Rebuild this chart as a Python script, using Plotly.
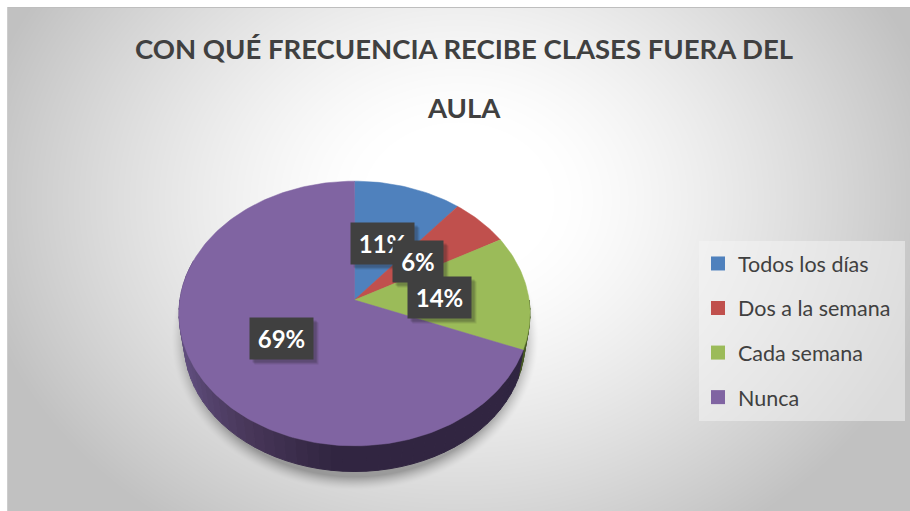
import base64, struct, zlib
import numpy as np
import plotly.graph_objects as go

categories = ["Todos los días", "Dos a la semana", "Cada semana", "Nunca"]
values = [11, 6, 14, 69]
colors = ["#4f81bd", "#c0504d", "#9bbb59", "#8064a2"]
title_lines = ["CON QUÉ FRECUENCIA RECIBE CLASES FUERA DEL", "AULA"]

W, H = 910, 511
CX, CY = 354.5, 300.0      # pie apex in pixels
AX, AY = 174.6, 131.0      # pixels per pie unit
K = 0.102                  # perspective strength
DEPTH_SCALE, DEPTH = 0.97, 30.0 / AY


def project(frac, r=1.0):
    t = 2 * np.pi * np.asarray(frac, dtype=float)
    u, v = r * np.sin(t), -r * np.cos(t)
    d = 1 - K * v
    return u / d, -v / d


def png_uri(rgba):
    h, w = rgba.shape[:2]
    raw = b"".join(b"\x00" + rgba[i].tobytes() for i in range(h))
    def chunk(t, d):
        return struct.pack(">I", len(d)) + t + d + struct.pack(">I", zlib.crc32(t + d) & 0xffffffff)
    data = (b"\x89PNG\r\n\x1a\n" + chunk(b"IHDR", struct.pack(">IIBBBBB", w, h, 8, 6, 0, 0, 0))
            + chunk(b"IDAT", zlib.compress(raw, 9)) + chunk(b"IEND", b""))
    return "data:image/png;base64," + base64.b64encode(data).decode()


def background():
    yy, xx = np.mgrid[0:H, 0:W].astype(float)
    d = np.sqrt(((xx - 458) / 640) ** 2 + ((yy - 200) / 520) ** 2)
    g = 255 - 62 * np.clip((d - 0.15) / 0.62, 0, 1) ** 1.3
    # soft shadow beneath the pie
    sd = np.sqrt(((xx - 354.5) / 184) ** 2 + ((yy - 338) / 152) ** 2)
    g *= 1 - 0.30 * np.clip((1.0 - sd) / 0.09, 0, 1) ** 1.5
    g[:7, :] = 255
    g[:, :7] = 255
    g[7, 7:] = 190
    g[:, 7][7:] = 205
    img = np.zeros((H, W, 4), dtype=np.uint8)
    img[..., :3] = np.clip(g, 0, 255)[..., None].astype(np.uint8)
    img[..., 3] = 255
    return png_uri(img)


def lerp_hex(stops, p):
    ps = [s[0] for s in stops]
    rgb = [np.interp(p, ps, [s[1][i] for s in stops]) for i in range(3)]
    return "rgb(%d,%d,%d)" % tuple(rgb)


fig = go.Figure()
total = sum(values)
cum = np.cumsum([0] + values) / total

# side wall, built from the same slice boundaries
wall_stops = [(0.0, (47, 37, 64)), (0.52, (50, 38, 66)), (0.59, (71, 54, 88)), (0.685, (95, 77, 124)), (0.8, (100, 80, 128))]
edges = np.linspace(0.25, 0.80, 56)
green_end = cum[3]
for a, b in zip(edges[:-1], edges[1:]):
    f = np.linspace(a, b, 5)
    x, y = project(f)
    xb, yb = x * DEPTH_SCALE, y * DEPTH_SCALE - DEPTH
    col = "rgb(70,88,36)" if b <= green_end + 1e-6 else lerp_hex(wall_stops, (a + b) / 2)
    fig.add_trace(go.Scatter(x=np.r_[x, xb[::-1], x[0]], y=np.r_[y, yb[::-1], y[0]], mode="lines",
                             fill="toself", fillcolor=col, line=dict(color=col, width=1),
                             hoverinfo="skip", showlegend=False))

# top face slices
for i, (name, col) in enumerate(zip(categories, colors)):
    f = np.linspace(cum[i], cum[i + 1], max(8, int(values[i] * 3)))
    x, y = project(f)
    fig.add_trace(go.Scatter(x=np.r_[0, x, 0], y=np.r_[0, y, 0], mode="lines", fill="toself",
                             fillcolor=col, line=dict(color=col, width=0.5),
                             name=name, hoverinfo="name", showlegend=False))

# legend entries
for i, (name, col) in enumerate(zip(categories, colors)):
    fig.add_trace(go.Scatter(x=[None], y=[None], mode="markers", name=name, legendgroup=name,
                             marker=dict(symbol="square", size=14, color=col)))

# data labels
for i, v in enumerate(values):
    lx, ly = project((cum[i] + cum[i + 1]) / 2, r=0.49)
    ly = float(ly) - 1.5 / AY
    for dx, dy, op in [(5, -5, 0.10), (4, -4, 0.12), (3, -3, 0.16)]:
        fig.add_annotation(x=float(lx) + dx / AX, y=ly + dy / AY, text=" ", showarrow=False,
                           width=63 if v > 9 else 50, height=41,
                           bgcolor="rgba(30,30,30,%.2f)" % op, borderpad=0)
    fig.add_annotation(x=float(lx), y=ly, text="<b>%d%%</b>" % v, showarrow=False,
                       width=63 if v > 9 else 50, height=41, bgcolor="#404040", borderpad=0,
                       font=dict(family="Lato", size=24, color="white"), align="center", valign="middle")

# title
fig.add_annotation(xref="paper", yref="paper", x=464.5 / W, y=1 - 48 / H, text="<b>%s</b>" % title_lines[0],
                   showarrow=False, xanchor="center", yanchor="middle",
                   font=dict(family="Lato", size=27.5, color="#404040"))
fig.add_annotation(xref="paper", yref="paper", x=464.5 / W, y=1 - 107 / H, text="<b>%s</b>" % title_lines[1],
                   showarrow=False, xanchor="center", yanchor="middle",
                   font=dict(family="Lato", size=27.5, color="#404040"))

fig.update_layout(
    width=W, height=H, autosize=False, margin=dict(l=0, r=0, t=0, b=0),
    paper_bgcolor="white", plot_bgcolor="rgba(0,0,0,0)",
    xaxis=dict(visible=False, range=[-CX / AX, (W - CX) / AX], fixedrange=True),
    yaxis=dict(visible=False, range=[(CY - H) / AY, CY / AY], fixedrange=True),
    images=[dict(source=background(), xref="paper", yref="paper", x=0, y=1, sizex=1, sizey=1,
                 sizing="stretch", layer="below", xanchor="left", yanchor="top")],
    shapes=[dict(type="rect", xref="paper", yref="paper", x0=699 / W, x1=905 / W, y0=1 - 421 / H, y1=1 - 241 / H,
                 fillcolor="rgba(245,245,245,0.5)", line_width=0, layer="below")],
    legend=dict(x=694 / W + 4 / W, y=1 - 243 / H, xanchor="left", yanchor="top", bgcolor="rgba(0,0,0,0)",
                font=dict(family="Lato", size=21.5, color="#404040"), tracegroupgap=13.6,
                itemclick=False, itemdoubleclick=False),
    showlegend=True,
)
fig.write_html("out.html", config=dict(displayModeBar=False),
               post_script="document.body.style.margin='0';document.documentElement.style.overflow='hidden';")
